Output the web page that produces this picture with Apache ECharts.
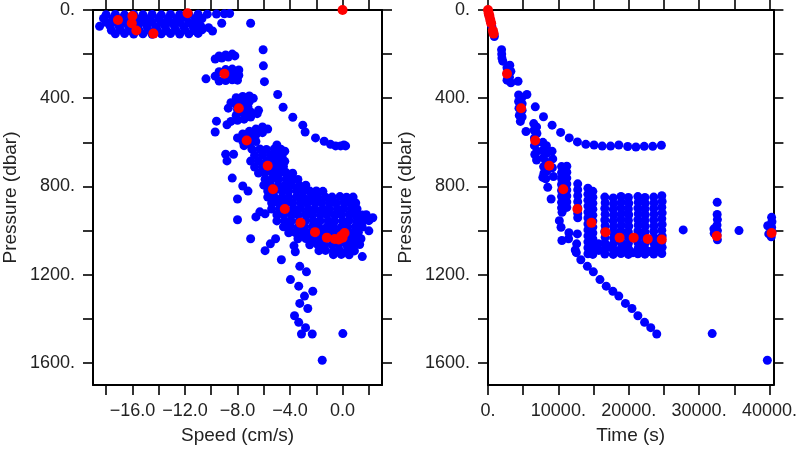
<!DOCTYPE html>
<html>
<head>
<meta charset="utf-8">
<script src="https://cdn.jsdelivr.net/npm/echarts@6/dist/echarts.min.js"></script>
<style>
html,body{margin:0;padding:0;background:#fff;}
#chart{width:800px;height:450px;}
</style>
</head>
<body>
<div id="chart"></div>
<script>
// ---- axis ticks / labels ----
const speedTicks = [-18,-16,-14,-12,-10,-8,-6,-4,-2,0,2];
const speedLabels = [-16,-12,-8,-4,0];
const timeTicks = [0,5000,10000,15000,20000,25000,30000,35000,40000];
const timeLabels = [0,10000,20000,30000,40000];
const pressureTicks = [0,200,400,600,800,1000,1200,1400,1600];
const pressureLabels = [0,400,800,1200,1600];

// ---- mean profile (red) ----
const meanTime =     [0, 100, 200, 330, 450, 700, 800, 2700, 4700, 6700, 8700, 10700, 12700, 14700, 16700, 18700, 20700, 22700, 24700, 32500, 40300];
const meanSpeed =    [0.0, -11.8, -16.0, -17.1, -16.05, -15.7, -14.4, -9.0, -7.9, -7.3, -5.7, -5.3, -4.4, -3.2, -2.1, -1.2, 0.0, -0.6, -0.3, -0.1, 0.15];
const meanPressure = [0, 15, 27, 45, 60, 93, 107, 289, 445, 592, 706, 813, 902, 965, 1007, 1032, 1032, 1038, 1040, 1025, 1011];

// ---- speed vs pressure (blue) ----
const speedSurface = [
[-18.0,21],[-17.3,20],[-16.6,22],[-15.9,20],[-15.2,21],[-14.5,20],[-13.8,22],[-13.1,20],[-12.4,21],[-11.7,20],[-11.0,19],[-10.3,19],[-9.6,18],[-9.0,17],[-8.6,16],
[-18.2,38],[-17.5,39],[-16.8,37],[-16.1,38],[-15.4,40],[-14.7,38],[-14.0,37],[-13.3,39],[-12.6,38],[-11.9,36],[-11.2,38],[-10.7,39],
[-18.0,56],[-17.3,55],[-16.6,57],[-15.9,56],[-15.2,54],[-14.5,56],[-13.8,57],[-13.1,55],[-12.4,56],[-11.7,58],[-11.0,56],
[-18.5,74],[-17.7,73],[-17.0,75],[-16.3,74],[-15.6,72],[-14.9,74],[-14.2,76],[-13.5,74],[-12.8,73],[-12.1,75],[-11.4,74],[-10.8,72],
[-17.6,92],[-16.9,91],[-16.2,93],[-15.5,92],[-14.8,90],[-14.1,92],[-13.4,94],[-12.7,92],[-12.0,91],[-11.3,93],[-10.7,90],
[-17.3,108],[-16.6,107],[-15.9,109],[-15.2,108],[-14.5,110],[-13.8,108],[-13.1,107],[-12.4,109],[-11.7,108],[-11.0,106],
[-10.2,80],[-9.9,95],[-9.2,60],[-7.0,60]
];
const speedUpper = [
[-9.7,222],[-9.2,218],[-8.7,213],[-8.2,208],[-9.4,208],[-8.9,204],[-8.4,200],
[-10.4,312],[-9.7,300],[-9.4,280],[-9.4,322],[-8.9,270],[-8.9,296],[-8.9,320],[-8.4,268],[-8.4,292],[-8.4,316],[-7.9,272],[-7.9,296],[-8.0,318],
[-8.7,445],[-8.5,420],[-8.1,398],[-8.1,428],[-8.0,452],[-7.6,392],[-7.6,418],[-7.5,445],[-7.1,390],[-7.1,415],[-6.8,400],[-7.2,440],
[-8.5,505],[-8.0,500],[-8.1,478],[-7.5,495],[-7.5,472],[-7.0,485],[-7.0,462],[-6.5,470],[-6.4,455],[-8.8,520],[-9.6,504],[-9.7,553],
[-8.0,580],[-7.6,562],[-7.6,595],[-7.1,550],[-7.1,578],[-7.1,608],[-6.6,540],[-6.6,566],[-6.6,596],[-6.1,530],[-6.1,556],[-5.7,540],[-7.5,615]
];
const speedCore = [
[-6.9,631],[-6.3,630],[-5.8,632],[-5.2,630],[-4.7,631],[-5.0,612],[-4.4,640],
[-6.7,658],[-6.1,657],[-5.5,659],[-5.0,658],[-4.6,660],
[-7.0,685],[-6.4,684],[-5.8,686],[-5.3,685],[-4.8,683],[-4.4,686],
[-6.7,712],[-6.1,711],[-5.6,713],[-5.0,712],[-4.5,710],
[-6.4,739],[-5.9,738],[-5.3,740],[-4.8,739],[-4.3,737],[-3.8,740],
[-5.9,767],[-5.4,766],[-4.9,768],[-4.3,767],[-3.8,765],[-3.4,768],
[-6.0,794],[-5.5,793],[-4.9,795],[-4.4,794],[-3.9,792],[-3.3,795],[-2.8,794],
[-5.7,821],[-5.2,820],[-4.6,822],[-4.1,821],[-3.5,819],[-3.0,822],[-2.5,821],[-2.0,820],[-1.5,822],
[-5.7,848],[-5.2,847],[-4.6,849],[-4.1,848],[-3.5,846],[-3.0,849],[-2.4,848],[-1.9,847],[-1.3,849],[-0.8,848],[-0.2,846],[0.3,849],[0.8,848],
[-5.4,875],[-4.9,874],[-4.3,876],[-3.8,875],[-3.2,873],[-2.7,876],[-2.1,875],[-1.6,874],[-1.0,876],[-0.5,875],[0.1,873],[0.6,876],[1.0,875],
[-5.4,902],[-4.8,901],[-4.3,903],[-3.7,902],[-3.2,900],[-2.6,903],[-2.1,902],[-1.5,901],[-1.0,903],[-0.4,902],[0.1,900],[0.7,903],[1.1,902],
[-5.0,929],[-4.5,928],[-3.9,930],[-3.4,929],[-2.8,927],[-2.3,930],[-1.7,929],[-1.2,928],[-0.6,930],[-0.1,929],[0.5,927],[1.0,930],[1.5,929],[1.8,928],
[-5.0,956],[-4.4,955],[-3.9,957],[-3.3,956],[-2.8,954],[-2.2,957],[-1.7,956],[-1.1,955],[-0.6,957],[0.0,956],[0.5,954],[1.1,957],[1.6,956],[2.0,955],
[-4.5,983],[-4.0,982],[-3.4,984],[-2.9,983],[-2.3,981],[-1.8,984],[-1.2,983],[-0.7,982],[-0.1,984],[0.4,983],[1.0,981],[1.5,984],
[-4.1,1010],[-3.6,1009],[-3.0,1011],[-2.5,1010],[-1.9,1008],[-1.4,1011],[-0.8,1010],[-0.3,1009],[0.3,1011],[0.8,1010],[1.2,1008],
[-3.4,1037],[-2.8,1036],[-2.3,1038],[-1.7,1037],[-1.2,1035],[-0.6,1038],[-0.1,1037],[0.5,1036],[1.0,1038],[1.4,1037],
[-2.5,1064],[-1.9,1063],[-1.4,1065],[-0.8,1064],[-0.3,1062],[0.3,1065],[0.8,1064],[1.3,1063],
[-1.8,1091],[-1.3,1090],[-0.7,1092],[-0.2,1091],[0.4,1089],[0.9,1092],
[-0.7,1109],[-0.1,1108],[0.5,1110]
];
const speedScatter = [
[-8.9,654],[-8.3,654],[-8.8,684],[-8.4,762],[-7.6,798],[-7.2,821],[-8.0,857],[-8.0,951],[-6.6,938],[-6.3,915],[-5.9,924],
[-7.0,1037],[-5.9,1091],[-5.5,1060],[-5.1,1037],[-3.7,1069],[-3.6,1096],[1.5,1118],[2.0,1001],[2.3,942],
[-6.05,180],[-6.03,253],[-5.95,325],[-4.94,383],[-4.53,441],[-3.79,486],[-3.03,522],[-2.85,553],[-2.06,580],[-1.40,595],[-0.92,609],[-0.53,616],[-0.15,616],[0.23,616],[0.10,612],
[-4.66,1132],[-3.26,1162],[-2.75,1187],[-3.97,1222],[-3.34,1252],[-2.27,1275],[-2.90,1297],[-3.26,1330],[-2.65,1353],[-3.66,1386],[-3.34,1416],[-2.82,1440],[-3.13,1469],[-2.31,1469],[0.02,1467],[-1.55,1588]
];

// ---- time vs pressure (blue) ----
const timeUpper = [
[100,20],[250,35],[400,55],[550,75],[700,95],[850,112],[900,120],
[1930,180],[1950,200],[1980,218],[2100,232],
[2700,262],[3100,250],[2800,285],[3250,278],[2850,308],[3250,330],[2700,318],[3050,305],[4270,323],
[4350,385],[4850,395],[4350,415],[4850,425],[4400,445],[4850,455],[4450,478],[4850,485],[4600,505],[5400,551],
[6500,515],[6900,530],[6550,545],[6950,560],[6600,580],[6950,600],[6600,615],[6950,640],[6650,655],[6900,680],
[7800,600],[8300,615],[7800,635],[8300,650],[7850,670],[8300,690],[7900,710],[8350,730],[7950,740],[8200,765],[7790,759],[8490,804],[8970,857],
[9100,640],[9200,675],[9150,715],[9300,755]
];
const timeBand = [
[10450,710],[10450,737],[10450,764],[10450,791],[10450,818],[10450,845],[10450,872],[10450,897],
[11200,708],[11200,735],[11200,762],[11200,789],[11200,816],[11200,843],[11200,870],[11200,895],
[10520,917],[10140,955],[10380,985],[10500,1045],[11450,1037],[11500,1010],
[12750,788],[12750,815],[12750,842],[12750,869],[12750,896],[12750,922],[12750,942],[12700,1015],[12400,1088],[12550,1100],[12600,1060],
[14200,808],[14200,835],[14200,862],[14200,889],[14200,916],[14200,943],[14200,970],[14200,997],[14200,1024],[14200,1051],[14200,1078],[14200,1105],
[14900,822],[14900,849],[14900,876],[14900,903],[14900,930],[14900,957],[14900,984],[14900,1011],[14900,1038],[14900,1065],[14900,1092],[14900,1108],
[16600,848],[16650,874],[16600,900],[16650,926],[16600,952],[16650,978],[16600,1004],[16650,1030],[16600,1056],[16650,1082],[16600,1106],
[17800,852],[17850,878],[17800,904],[17850,930],[17800,956],[17850,982],[17800,1008],[17850,1034],[17800,1060],[17850,1086],[17800,1108],
[18900,845],[18950,871],[18900,897],[18950,923],[18900,949],[18950,975],[18900,1001],[18950,1027],[18900,1053],[18950,1079],[18900,1104],
[19950,850],[20000,876],[19950,902],[20000,928],[19950,954],[20000,980],[19950,1006],[20000,1032],[19950,1058],[20000,1084],[19950,1108],
[21300,846],[21350,872],[21300,898],[21350,924],[21300,950],[21350,976],[21300,1002],[21350,1028],[21300,1054],[21350,1080],[21300,1105],
[22300,850],[22350,876],[22300,902],[22350,928],[22300,954],[22350,980],[22300,1006],[22350,1032],[22300,1058],[22350,1084],[22300,1107],
[23550,848],[23600,874],[23550,900],[23600,926],[23550,952],[23600,978],[23550,1004],[23600,1030],[23550,1056],[23600,1082],[23550,1106],
[24700,842],[24750,868],[24700,894],[24750,920],[24700,946],[24750,972],[24700,998],[24750,1024],[24700,1050],[24750,1076],[24700,1104],
[15700,1060],[15750,1090],[17200,1075],[18350,1095],[19400,1080],[20600,1100],[21800,1085],[22900,1095],[24100,1080]
];
const timeScatter = [
[5530,383],[6720,439],[7885,484],[9110,522],[10320,555],[11545,580],[12710,598],[13900,609],[15070,612],[16230,617],[17420,617],[18590,612],[19850,619],[21020,621],[22200,618],[23410,618],[24640,613],
[13190,1132],[14120,1162],[14970,1187],[15910,1222],[16800,1252],[17740,1275],[18590,1297],[19530,1330],[20460,1353],[21300,1386],[22250,1416],[23130,1440],[23980,1469],[31860,1467],[39700,1588],
[27740,997],
[32570,872],[32570,927],[32600,950],[32550,975],[32600,1000],[32550,1020],[32600,1042],[32100,992],[32150,1012],
[35670,1000],
[40300,940],[40350,960],[40300,985],[40350,1005],[40250,1028],[39750,978],[39900,1015]
];

const speedBlue = speedSurface.concat(speedUpper, speedCore, speedScatter);
const timeBlue = timeUpper.concat(timeBand, timeScatter);
const speedRed = meanSpeed.map((s, i) => [s, meanPressure[i]]);
const timeRed = meanTime.map((t, i) => [t, meanPressure[i]]);

const FONT = 'Liberation Sans';
const INK = '#222';
const lineStyle = {color: '#000', width: 2};
const tickStyle = {color: '#000', width: 1.6};

function xAxisDef(grid, pos, min, max, ticks, labels, fmt, name) {
  const a = {
    gridIndex: grid, type: 'value', position: pos, min: min, max: max,
    axisLine: {show: true, onZero: false, lineStyle: lineStyle},
    axisTick: {show: true, inside: false, length: 10, lineStyle: tickStyle, customValues: ticks},
    splitLine: {show: false},
    axisLabel: {show: pos === 'bottom', customValues: labels, formatter: fmt,
      fontFamily: FONT, fontSize: 18, color: INK, margin: 17}
  };
  if (name) {
    a.name = name; a.nameLocation = 'middle'; a.nameGap = 41;
    a.nameTextStyle = {fontFamily: FONT, fontSize: 19, color: INK};
  }
  return a;
}
function yAxisDef(grid, pos, name) {
  const a = {
    gridIndex: grid, type: 'value', position: pos, min: 0, max: 1700, inverse: true,
    axisLine: {show: true, onZero: false, lineStyle: lineStyle},
    axisTick: {show: true, inside: false, length: 10, lineStyle: tickStyle, customValues: pressureTicks},
    splitLine: {show: false},
    axisLabel: {show: pos === 'left', customValues: pressureLabels, formatter: v => v + '.',
      fontFamily: FONT, fontSize: 18, color: INK, margin: 18}
  };
  if (name) {
    a.name = name; a.nameLocation = 'middle'; a.nameGap = 73;
    a.nameTextStyle = {fontFamily: FONT, fontSize: 19, color: INK};
  }
  return a;
}
const speedFmt = v => (v < 0 ? '\u2212' : '') + Math.abs(v).toFixed(1);
const timeFmt = v => v + '.';

const chart = echarts.init(document.getElementById('chart'), null, {renderer: 'canvas'});
chart.setOption({
  animation: false,
  backgroundColor: '#fff',
  grid: [
    {left: 93, top: 10, width: 289, height: 377},
    {left: 488, top: 10, width: 288, height: 377}
  ],
  xAxis: [
    xAxisDef(0, 'bottom', -19, 3, speedTicks, speedLabels, speedFmt, 'Speed (cm/s)'),
    xAxisDef(0, 'top', -19, 3, speedTicks, speedLabels, speedFmt, null),
    xAxisDef(1, 'bottom', 0, 40560, timeTicks, timeLabels, timeFmt, 'Time (s)'),
    xAxisDef(1, 'top', 0, 40560, timeTicks, timeLabels, timeFmt, null)
  ],
  yAxis: [
    yAxisDef(0, 'left', 'Pressure (dbar)'),
    yAxisDef(0, 'right', null),
    yAxisDef(1, 'left', 'Pressure (dbar)'),
    yAxisDef(1, 'right', null)
  ],
  series: [
    {type: 'scatter', xAxisIndex: 0, yAxisIndex: 0, data: speedBlue, symbolSize: 9,
     itemStyle: {color: '#0000ff', opacity: 1}, silent: true},
    {type: 'scatter', xAxisIndex: 2, yAxisIndex: 2, data: timeBlue, symbolSize: 9,
     itemStyle: {color: '#0000ff', opacity: 1}, silent: true},
    {type: 'scatter', xAxisIndex: 0, yAxisIndex: 0, data: speedRed, symbolSize: 10,
     itemStyle: {color: '#ff0000', opacity: 1}, silent: true, z: 3},
    {type: 'scatter', xAxisIndex: 2, yAxisIndex: 2, data: timeRed, symbolSize: 10,
     itemStyle: {color: '#ff0000', opacity: 1}, silent: true, z: 3}
  ]
});
</script>
</body>
</html>
